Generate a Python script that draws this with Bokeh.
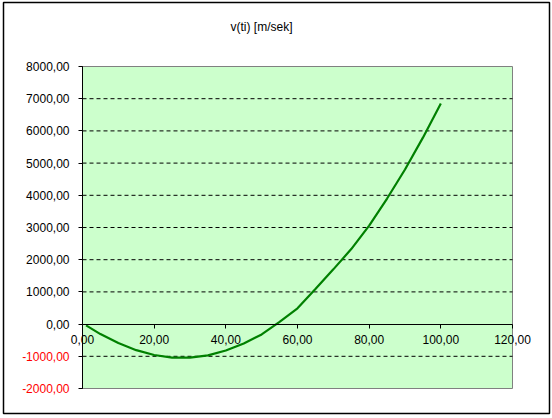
from bokeh.plotting import figure
from bokeh.models import LinearAxis, FixedTicker, CustomJSTickFormatter, Range1d
from bokeh.core.properties import value
from bokeh.embed import file_html
from bokeh.resources import INLINE

# data
t_values = [1, 5, 10, 15, 20, 25, 30, 35, 40, 45, 50, 55, 60, 65, 70, 75, 80, 85, 90, 95, 100]
v_values = [-40, -310, -590, -810, -960, -1040, -1040, -970, -820, -600, -320, 70,
            490, 1090, 1700, 2330, 3060, 3900, 4800, 5790, 6850]

x_ticks = [0, 20, 40, 60, 80, 100, 120]
y_ticks_pos = [0, 1000, 2000, 3000, 4000, 5000, 6000, 7000, 8000]
y_ticks_neg = [-2000, -1000]
grid_ticks = [-1000, 1000, 2000, 3000, 4000, 5000, 6000, 7000]
title_text = "v(ti) [m/sek]"

FONT = "Liberation Sans"

# layout (pixels inside the figure)
W, H = 552, 418
PL, PR, PT, PB = 82, 512, 66, 388          # plot-area edges
TITLE_X, TITLE_Y = 261, 26                 # title centre
BL, BR, BT, BB = 3, 549, 2, 413            # chart-area border

x0, x1 = x_ticks[0], x_ticks[-1]
y0, y1 = y_ticks_neg[0], y_ticks_pos[-1]
sx = (PR - PL) / (x1 - x0)
sy = (PB - PT) / (y1 - y0)


def px_to_x(px):
    return x0 + (px - PL) / sx


def py_to_y(py):
    return y1 - (py - PT) / sy


xr = Range1d(px_to_x(0), px_to_x(W))
yr = Range1d(py_to_y(H), py_to_y(0))

p = figure(width=W, height=H, output_backend="svg", toolbar_location=None,
           x_axis_location=None, y_axis_location=None, title=None,
           x_range=xr, y_range=yr,
           min_border_left=0, min_border_right=0, min_border_top=0, min_border_bottom=0)
p.grid.visible = False
p.background_fill_color = "white"
p.border_fill_color = "white"
p.outline_line_color = None

# plot area fill
p.varea(x=[x0, x1], y1=[y0, y0], y2=[y1, y1], fill_color="#CCFFCC")

# plot area outline
p.quad(left=[x0], right=[x1], bottom=[y0], top=[y1],
       fill_color=None, line_color="#808080", line_width=1)

# chart-area border
p.quad(left=[px_to_x(BL)], right=[px_to_x(BR)], bottom=[py_to_y(BB)], top=[py_to_y(BT)],
       fill_color=None, line_color="black", line_width=1.5)

# dashed horizontal gridlines
p.segment(x0=[x0] * len(grid_ticks), x1=[x1] * len(grid_ticks), y0=grid_ticks, y1=grid_ticks,
          line_color="black", line_dash="4 3", line_width=1)


def style_axis(ax, color, standoff):
    ax.axis_line_color = "black"
    ax.major_tick_line_color = "black"
    ax.major_tick_in = 0
    ax.major_tick_out = 4
    ax.minor_tick_line_color = None
    ax.major_label_text_font = FONT
    ax.major_label_text_font_size = "12px"
    ax.major_label_text_color = color
    ax.major_label_standoff = standoff
    ax.formatter = CustomJSTickFormatter(code="return tick.toFixed(2).replace('.', ',');")


ax_x = LinearAxis(ticker=FixedTicker(ticks=x_ticks), fixed_location=0, bounds=(x0, x1))
style_axis(ax_x, "black", 7)
p.add_layout(ax_x, "below")

ax_yn = LinearAxis(ticker=FixedTicker(ticks=y_ticks_neg), fixed_location=x0, bounds=(y0, y1))
style_axis(ax_yn, "#FF0000", 9)
p.add_layout(ax_yn, "left")

ax_yp = LinearAxis(ticker=FixedTicker(ticks=y_ticks_pos), fixed_location=x0, bounds=(y0, y1))
style_axis(ax_yp, "black", 9)
p.add_layout(ax_yp, "left")

# chart title
p.text(x=[px_to_x(TITLE_X)], y=[py_to_y(TITLE_Y)], text=[title_text],
       text_align="center", text_baseline="middle", text_font=value(FONT),
       text_font_size="12px", text_color="black")

p.line(t_values, v_values, line_color="#008000", line_width=2.2)

open("out.html", "w").write(file_html(p, INLINE))
